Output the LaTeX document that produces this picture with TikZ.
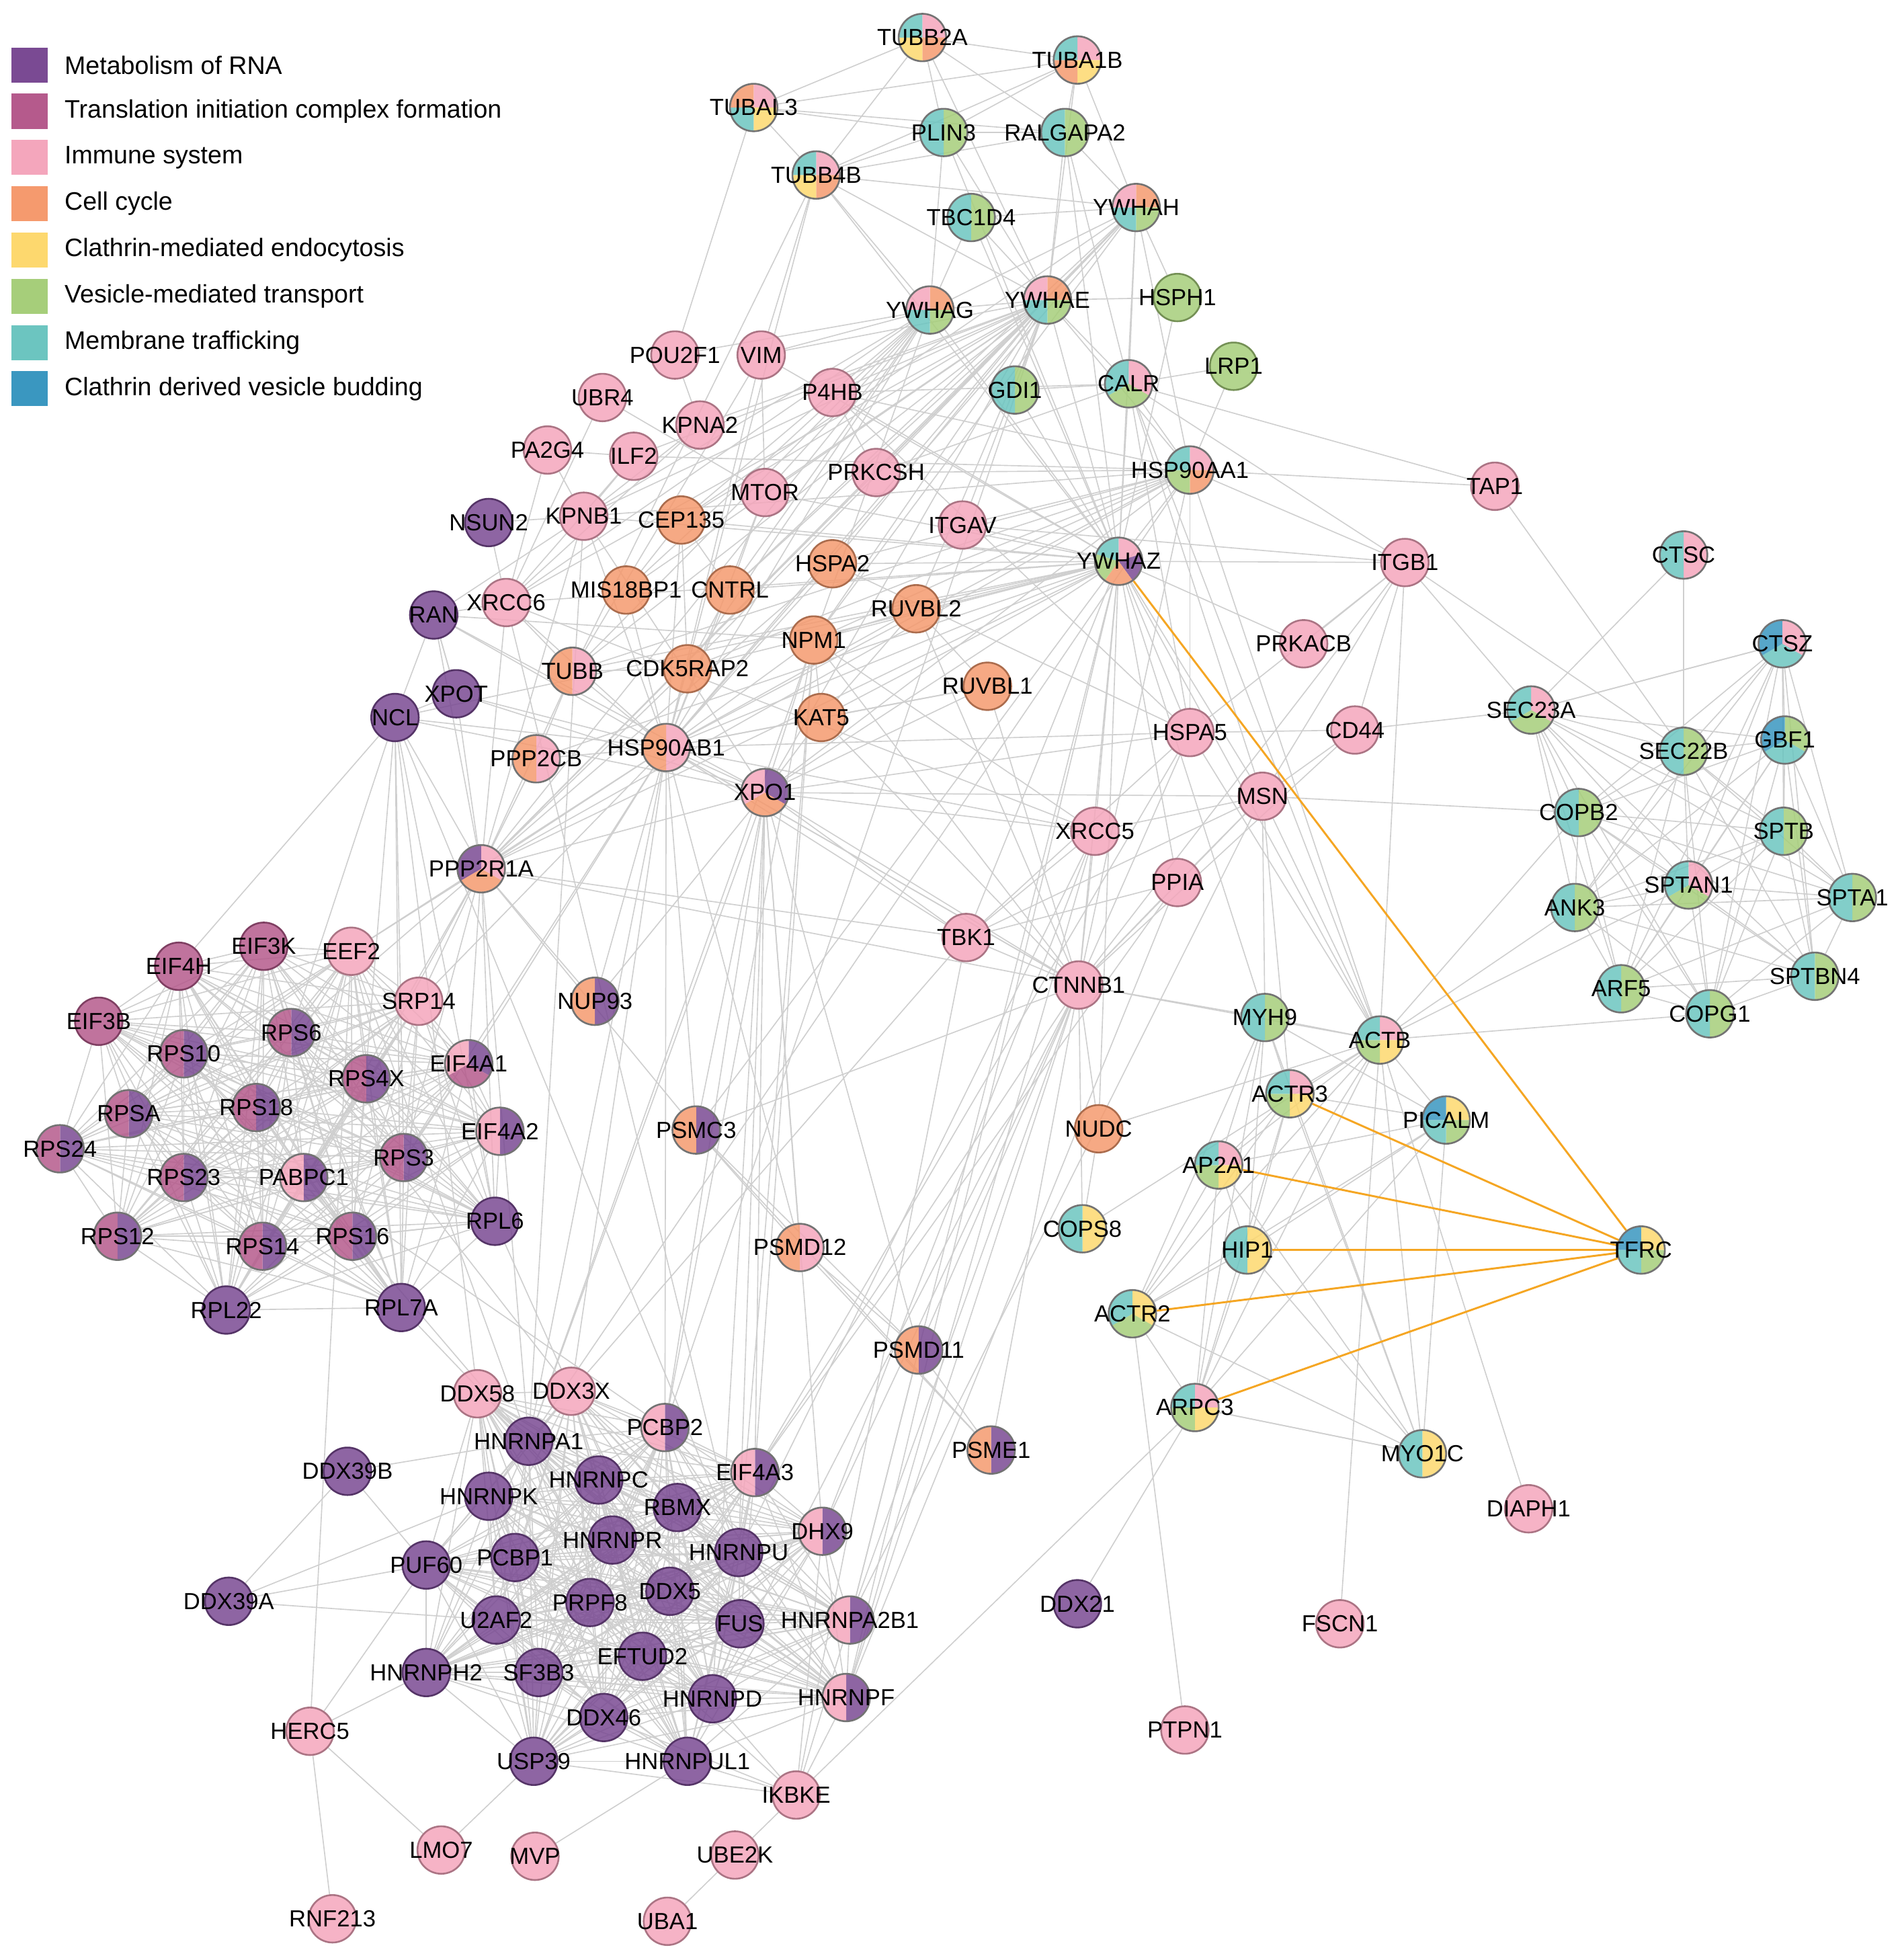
\documentclass[tikz,border=0pt]{standalone}
\usepackage{fontspec}
\setmainfont{Liberation Sans}
\pgfdeclarelayer{edges}
\pgfsetlayers{edges,main}
\definecolor{R}{HTML}{7A4A93}
\definecolor{T}{HTML}{B55A8C}
\definecolor{I}{HTML}{F4A6BC}
\definecolor{C}{HTML}{F59A6E}
\definecolor{E}{HTML}{FDD86E}
\definecolor{V}{HTML}{A6CE7A}
\definecolor{M}{HTML}{6CC5C0}
\definecolor{B}{HTML}{3A97C0}
\definecolor{edge}{HTML}{CFCFCF}
\definecolor{hl}{HTML}{F5A623}
\tikzset{
  gnode/.style={circle,minimum size=3.8mm,inner sep=0pt},
  lab/.style={font=\fontsize{5.3pt}{6pt}\selectfont,inner sep=0pt},
  legtxt/.style={font=\fontsize{5.75pt}{7pt}\selectfont,anchor=west,inner sep=0pt},
  e/.style={draw=edge,line width=0.25pt},
  oe/.style={draw=hl,line width=0.45pt},
}
\newcommand\gn[4]{%
  \def\gnn{0}\foreach \c in {#4}{\xdef\gnn{\the\numexpr\gnn+1}}%
  \foreach \c [count=\k] in {#4}{%
    \fill[\c,fill opacity=0.85] (#2,#3) -- ++({90-360*(\k-1)/\gnn}:1.9mm) arc[start angle={90-360*(\k-1)/\gnn}, end angle={90-360*\k/\gnn}, radius=1.9mm] -- cycle;}%
  \ifnum\gnn=1
    \node[gnode,draw=#4!70!black,line width=0.4pt] (#1) at (#2,#3) {};
  \else
    \node[gnode,draw=black!55,line width=0.4pt] (#1) at (#2,#3) {};
  \fi
  \node[lab] at (#2,#3) {#1};}
\newcommand\clique[1]{%
  \foreach \a [count=\i] in {#1}{\foreach \b [count=\j] in {#1}{\ifnum\j>\i \draw[e] (\a)--(\b);\fi}}}
\newcommand\hub[2]{\foreach \b in {#2}{\draw[e] (#1)--(\b);}}
\begin{document}
\begin{tikzpicture}[x=0.1mm,y=-0.1mm]
\useasboundingbox (0,0) rectangle (1520,1568);
% legend
\foreach \c/\t [count=\k] in {R/Metabolism of RNA,T/Translation initiation complex formation,I/Immune system,C/Cell cycle,E/Clathrin-mediated endocytosis,V/Vesicle-mediated transport,M/Membrane trafficking,B/Clathrin derived vesicle budding}{
  \fill[\c] (9,{38+37*(\k-1)}) rectangle ++(29,28);
  \node[legtxt] (leg\k) at (51,{52+37*(\k-1)}) {\t};}
% nodes
\gn{TUBB2A}{738}{30}{I,C,E,M}
\gn{TUBA1B}{862}{48}{I,E,C,M}
\gn{TUBAL3}{603}{86}{I,E,M,C}
\gn{PLIN3}{755}{106}{V,M}
\gn{RALGAPA2}{852}{106}{V,M}
\gn{TUBB4B}{653}{140}{I,C,E,M}
\gn{TBC1D4}{777}{174}{V,M}
\gn{YWHAH}{909}{166}{C,V,M,I}
\gn{YWHAG}{744}{248}{C,V,M,I}
\gn{YWHAE}{838}{240}{C,V,M,I}
\gn{HSPH1}{942}{238}{V}
\gn{POU2F1}{540}{284}{I}
\gn{VIM}{609}{284}{I}
\gn{LRP1}{987}{293}{V}
\gn{UBR4}{482}{318}{I}
\gn{P4HB}{666}{314}{I}
\gn{GDI1}{812}{312}{V,M}
\gn{CALR}{903}{307}{I,V,M}
\gn{KPNA2}{560}{340}{I}
\gn{PA2G4}{438}{360}{I}
\gn{ILF2}{507}{365}{I}
\gn{PRKCSH}{701}{378}{I}
\gn{HSP90AA1}{952}{376}{I,C,V,M}
\gn{MTOR}{612}{394}{I}
\gn{TAP1}{1196}{389}{I}
\gn{NSUN2}{391}{418}{R}
\gn{KPNB1}{467}{413}{I}
\gn{CEP135}{545}{416}{C}
\gn{ITGAV}{770}{420}{I}
\gn{YWHAZ}{895}{449}{I,R,C,V,M}
\gn{ITGB1}{1124}{450}{I}
\gn{CTSC}{1347}{444}{I,M}
\gn{HSPA2}{666}{451}{C}
\gn{MIS18BP1}{501}{472}{C}
\gn{CNTRL}{584}{472}{C}
\gn{XRCC6}{405}{482}{I}
\gn{RAN}{347}{492}{R}
\gn{RUVBL2}{733}{487}{C}
\gn{NPM1}{651}{512}{C}
\gn{PRKACB}{1043}{515}{I}
\gn{CTSZ}{1426}{515}{I,M,B}
\gn{TUBB}{458}{537}{I,C}
\gn{CDK5RAP2}{550}{535}{C}
\gn{XPOT}{365}{555}{R}
\gn{RUVBL1}{790}{549}{C}
\gn{NCL}{316}{574}{R}
\gn{SEC23A}{1225}{568}{I,V,M}
\gn{KAT5}{657}{574}{C}
\gn{CD44}{1084}{584}{I}
\gn{HSPA5}{952}{586}{I}
\gn{SEC22B}{1347}{601}{V,M}
\gn{GBF1}{1428}{592}{V,M,B}
\gn{PPP2CB}{429}{607}{I,C}
\gn{HSP90AB1}{533}{598}{I,C}
\gn{XPO1}{612}{634}{R,C,I}
\gn{MSN}{1010}{637}{I}
\gn{COPB2}{1263}{650}{V,M}
\gn{SPTB}{1427}{665}{V,M}
\gn{XRCC5}{876}{665}{I}
\gn{PPP2R1A}{385}{695}{I,C,R}
\gn{PPIA}{942}{706}{I}
\gn{ANK3}{1260}{726}{V,M}
\gn{SPTAN1}{1351}{708}{I,V,M}
\gn{SPTA1}{1482}{718}{V,M}
\gn{TBK1}{773}{750}{I}
\gn{EIF3K}{211}{757}{T}
\gn{EEF2}{281}{761}{I}
\gn{EIF4H}{143}{773}{T}
\gn{CTNNB1}{863}{788}{I}
\gn{ARF5}{1297}{791}{V,M}
\gn{SPTBN4}{1452}{781}{V,M}
\gn{SRP14}{335}{801}{I}
\gn{NUP93}{476}{801}{R,C}
\gn{MYH9}{1012}{814}{V,M}
\gn{ACTB}{1104}{832}{I,E,V,M}
\gn{COPG1}{1368}{811}{V,M}
\gn{EIF3B}{79}{817}{T}
\gn{RPS6}{233}{826}{R,T}
\gn{RPS10}{147}{843}{R,T}
\gn{EIF4A1}{375}{851}{R,T,I}
\gn{RPS4X}{293}{863}{R,T}
\gn{ACTR3}{1032}{875}{I,E,V,M}
\gn{RPSA}{103}{891}{R,T}
\gn{RPS18}{205}{886}{R,T}
\gn{PSMC3}{557}{904}{R,C}
\gn{NUDC}{879}{903}{C}
\gn{PICALM}{1157}{896}{E,V,M,B}
\gn{EIF4A2}{400}{905}{R,I}
\gn{RPS3}{323}{926}{R,T}
\gn{AP2A1}{975}{932}{I,E,V,M}
\gn{RPS24}{48}{919}{R,T}
\gn{RPS23}{147}{942}{R,T}
\gn{PABPC1}{243}{942}{R,I}
\gn{RPL6}{396}{977}{R}
\gn{COPS8}{866}{983}{E,M}
\gn{PSMD12}{640}{998}{I,C}
\gn{HIP1}{998}{1000}{E,M}
\gn{TFRC}{1313}{1000}{E,V,M,B}
\gn{RPS12}{94}{989}{R,T}
\gn{RPS14}{210}{997}{R,T}
\gn{RPS16}{282}{989}{R,T}
\gn{RPL22}{181}{1048}{R}
\gn{RPL7A}{321}{1046}{R}
\gn{ACTR2}{906}{1051}{E,V,M}
\gn{PSMD11}{735}{1080}{R,C}
\gn{DDX58}{382}{1115}{I}
\gn{DDX3X}{457}{1113}{I}
\gn{ARPC3}{956}{1126}{I,E,V,M}
\gn{PCBP2}{532}{1142}{R,I}
\gn{HNRNPA1}{423}{1153}{R}
\gn{PSME1}{793}{1160}{R,C}
\gn{MYO1C}{1138}{1163}{E,M}
\gn{DDX39B}{278}{1177}{R}
\gn{EIF4A3}{604}{1178}{R,I}
\gn{HNRNPK}{391}{1197}{R}
\gn{HNRNPC}{479}{1184}{R}
\gn{RBMX}{542}{1206}{R}
\gn{DIAPH1}{1223}{1207}{I}
\gn{DHX9}{658}{1225}{R,I}
\gn{HNRNPR}{490}{1232}{R}
\gn{HNRNPU}{591}{1242}{R}
\gn{PCBP1}{412}{1246}{R}
\gn{PUF60}{341}{1252}{R}
\gn{DDX5}{536}{1273}{R}
\gn{DDX39A}{183}{1281}{R}
\gn{DDX21}{862}{1283}{R}
\gn{PRPF8}{472}{1282}{R}
\gn{FUS}{592}{1299}{R}
\gn{HNRNPA2B1}{680}{1296}{R,I}
\gn{U2AF2}{397}{1296}{R}
\gn{FSCN1}{1072}{1299}{I}
\gn{EFTUD2}{514}{1325}{R}
\gn{HNRNPH2}{341}{1338}{R}
\gn{SF3B3}{431}{1338}{R}
\gn{HNRNPD}{570}{1359}{R}
\gn{HNRNPF}{677}{1358}{R,I}
\gn{HERC5}{248}{1385}{I}
\gn{DDX46}{483}{1374}{R}
\gn{PTPN1}{948}{1384}{I}
\gn{USP39}{427}{1409}{R}
\gn{HNRNPUL1}{550}{1409}{R}
\gn{IKBKE}{637}{1436}{I}
\gn{LMO7}{353}{1480}{I}
\gn{MVP}{428}{1485}{I}
\gn{UBE2K}{588}{1484}{I}
\gn{RNF213}{266}{1535}{I}
\gn{UBA1}{534}{1537}{I}
% edges
\begin{pgfonlayer}{edges}
\clique{EIF4H,EIF3K,EEF2,EIF3B,RPS6,RPS10,EIF4A1,RPS4X,RPSA,RPS18,EIF4A2,RPS3,RPS24,RPS23,PABPC1,RPL6,RPS12,RPS14,RPS16,RPL22,RPL7A,SRP14}
\clique{HNRNPA1,PCBP2,EIF4A3,HNRNPK,HNRNPC,RBMX,DHX9,HNRNPR,HNRNPU,PCBP1,PUF60,DDX5,PRPF8,FUS,HNRNPA2B1,U2AF2,EFTUD2,HNRNPH2,SF3B3,HNRNPD,HNRNPF,DDX46,USP39,HNRNPUL1,DDX3X,DDX58}
\clique{SEC23A,SEC22B,GBF1,COPB2,SPTB,ANK3,SPTAN1,SPTA1,ARF5,SPTBN4,COPG1,CTSZ}
\clique{ACTB,ACTR3,PICALM,AP2A1,HIP1,ACTR2,ARPC3,MYO1C,MYH9}
\clique{TUBB2A,TUBA1B,TUBAL3,TUBB4B,PLIN3,RALGAPA2}
\hub{YWHAZ}{YWHAE,YWHAG,YWHAH,HSP90AA1,CALR,GDI1,TBC1D4,RALGAPA2,ITGB1,CTNNB1,TBK1,RUVBL2,NPM1,HSPA2,MTOR,KPNB1,CEP135,CNTRL,XRCC6,XPO1,HSP90AB1,PPP2R1A,PPP2CB,MSN,ACTB,XRCC5,HSPA5,PRKACB,CDK5RAP2,KAT5,TUBB,NCL,PSMC3,NUDC,MYH9,PPIA,ITGAV,P4HB,VIM,HSPH1,PLIN3,HNRNPA2B1,HNRNPF,TUBB4B}
\hub{YWHAE}{YWHAG,YWHAH,TBC1D4,RALGAPA2,CALR,HSP90AA1,GDI1,CEP135,CNTRL,MIS18BP1,KPNA2,KPNB1,MTOR,PRKCSH,HSPA2,NPM1,RUVBL2,XPO1,HSP90AB1,PPP2R1A,TUBB,CDK5RAP2,XRCC6,P4HB,VIM,ILF2,PLIN3,HSPH1,ITGAV,TUBA1B,TUBB4B,PCBP2,TUBB2A}
\hub{YWHAG}{YWHAH,TBC1D4,CEP135,CNTRL,MIS18BP1,HSP90AB1,PPP2R1A,KPNB1,XRCC6,TUBB,NPM1,POU2F1,VIM,MTOR,CDK5RAP2,TUBB4B,PLIN3}
\hub{YWHAH}{TBC1D4,RALGAPA2,HSP90AA1,CALR,HSPH1,CEP135,CNTRL,PRKCSH,NPM1,HSP90AB1,PPP2R1A,TUBA1B}
\hub{HSP90AA1}{CALR,TAP1,ITGB1,HSP90AB1,PPP2R1A,XPO1,ITGAV,PRKCSH,HSPA2,NPM1,TUBB,HSPA5,CTNNB1,ACTB,P4HB,LRP1,CDK5RAP2,ILF2,KPNB1,HNRNPA1}
\hub{HSP90AB1}{XPO1,PPP2R1A,PPP2CB,TUBB,CDK5RAP2,KAT5,NPM1,RUVBL1,RUVBL2,HSPA2,CNTRL,MIS18BP1,CEP135,KPNB1,XRCC6,RAN,XPOT,NCL,MTOR,PSMC3,HNRNPA1,EEF2,SRP14,NUP93,EIF4A1,CTNNB1,HSPA5,TBK1,XRCC5,PSMD12,DDX3X,PCBP2,RPS3,TUBB4B,VIM}
\hub{CALR}{P4HB,PRKCSH,HSPA5,GDI1,LRP1,TAP1,ITGB1,ACTB,MSN}
\hub{XPO1}{RAN,XPOT,NCL,NPM1,KPNB1,PSMC3,NUP93,XRCC5,HNRNPA1,EIF4A3,PCBP2,CTNNB1,MSN,PPP2R1A,KAT5,RUVBL1,HSPA5,TBK1,PSMD12,HNRNPU,DHX9,PSMD11,HNRNPD}
\hub{PPP2R1A}{PPP2CB,NCL,XRCC6,TUBB,CDK5RAP2,EEF2,SRP14,RPS6,EIF4A1,RPS4X,PABPC1,RPS3,RPL6,NUP93,PSMC3,CTNNB1,TBK1,RAN,XPOT,HSPA2,KPNB1,HNRNPA1}
\hub{CTNNB1}{TBK1,XRCC5,MSN,ACTB,MYH9,NUDC,COPS8,HSPA5,PPIA,RUVBL1,RUVBL2,KAT5,ITGB1,CD44,PSMD11,HNRNPA2B1,EIF4A3,HNRNPF,DHX9,PSME1,HSP90AB1,NPM1,HNRNPD}
\hub{ITGB1}{PRKACB,SEC23A,SEC22B,ACTB,HSPA5,CD44,MSN,ITGAV}
\hub{MSN}{COPB2,ACTB,MYH9,PPIA,XRCC5,TBK1,CD44,HNRNPA2B1,ACTR3}
\hub{ACTB}{ANK3,COPB2,COPG1,SPTAN1,DIAPH1,FSCN1,HSPA5,NUDC,COPS8}
\hub{NCL}{RPS6,RPS3,RPL6,XPOT,RPL7A,RPS16,EIF4H,HNRNPU,DDX58,RAN}
\hub{IKBKE}{HNRNPF,HNRNPA2B1,HNRNPD,DHX9,USP39,DDX46,HNRNPUL1,EFTUD2,UBE2K,ARPC3,TBK1}
\hub{PSMC3}{PSMD12,PSMD11,PSME1,CTNNB1}
\hub{PSMD11}{PSMD12,PSME1,HNRNPA2B1}
\hub{RAN}{XPOT,KPNB1,XRCC6,NPM1}
\hub{XRCC6}{XRCC5,TUBB,NSUN2,PA2G4,ILF2,KPNA2,UBR4,HNRNPU}
\hub{NPM1}{XRCC5,KAT5,RUVBL2,HNRNPA1,PCBP2,EIF4A3,HNRNPU}
\hub{XRCC5}{HNRNPU,HNRNPF,DHX9,TBK1}
\hub{PPIA}{HNRNPF,EIF4A3,TBK1}
\hub{TUBB4B}{TUBB,VIM}
\draw[e] (TAP1)--(SEC22B); \draw[e] (CTSC)--(SEC22B); \draw[e] (CTSC)--(SEC23A);
\draw[e] (CD44)--(SEC23A); \draw[e] (CD44)--(HSPA5); \draw[e] (SEC23A)--(CTSZ);
\draw[e] (MYO1C)--(ARPC3); \draw[e] (ACTR2)--(PTPN1); \draw[e] (DDX21)--(ARPC3);
\draw[e] (NUDC)--(COPS8); \draw[e] (TBK1)--(HSPA5); \draw[e] (PSMD12)--(PSME1);
\draw[e] (DDX39B)--(DDX39A); \draw[e] (DDX39B)--(HNRNPA1); \draw[e] (DDX39B)--(PUF60);
\draw[e] (DDX39A)--(PUF60); \draw[e] (DDX39A)--(HNRNPK); \draw[e] (DDX39A)--(U2AF2);
\draw[e] (HERC5)--(LMO7); \draw[e] (HERC5)--(RNF213); \draw[e] (HERC5)--(HNRNPH2);
\draw[e] (HERC5)--(PUF60); \draw[e] (HERC5)--(EEF2); \draw[e] (LMO7)--(USP39);
\draw[e] (MVP)--(HNRNPUL1); \draw[e] (UBA1)--(UBE2K);
\draw[e] (PABPC1)--(HNRNPA1); \draw[e] (PABPC1)--(PCBP2); \draw[e] (RPL7A)--(HNRNPA1);
\draw[e] (EEF2)--(HNRNPA1); \draw[e] (RPS6)--(DDX3X); \draw[e] (RPL6)--(DDX3X);
\draw[e] (NSUN2)--(KPNB1); \draw[e] (PA2G4)--(ILF2); \draw[e] (PA2G4)--(KPNB1);
\draw[e] (ILF2)--(KPNB1); \draw[e] (POU2F1)--(KPNA2); \draw[e] (KPNA2)--(KPNB1);
\draw[e] (VIM)--(TUBB); \draw[e] (VIM)--(MTOR); \draw[e] (UBR4)--(MTOR);
\draw[e] (P4HB)--(PRKCSH); \draw[e] (P4HB)--(HSPA5); \draw[e] (MTOR)--(CNTRL);
\draw[e] (XPOT)--(RAN); \draw[e] (HSPA2)--(HSPA5); \draw[e] (RUVBL1)--(RUVBL2);
\draw[e] (RUVBL1)--(KAT5); \draw[e] (RUVBL2)--(KAT5); \draw[e] (CEP135)--(CNTRL);
\draw[e] (CEP135)--(CDK5RAP2); \draw[e] (CNTRL)--(CDK5RAP2); \draw[e] (MIS18BP1)--(CEP135);
\draw[e] (TUBB)--(CDK5RAP2); \draw[e] (TUBB)--(PPP2CB); \draw[e] (KPNB1)--(HNRNPA1);
\draw[e] (HSPA5)--(EIF4A3); \draw[e] (TBK1)--(DDX3X); \draw[e] (TUBAL3)--(POU2F1);
\draw[e] (TUBB4B)--(YWHAH); \draw[e] (RALGAPA2)--(CALR);
% highlighted
\foreach \n in {YWHAZ,ACTR3,AP2A1,HIP1,ACTR2,ARPC3}{\draw[oe] (TFRC)--(\n);}
\end{pgfonlayer}
\end{tikzpicture}
\end{document}
